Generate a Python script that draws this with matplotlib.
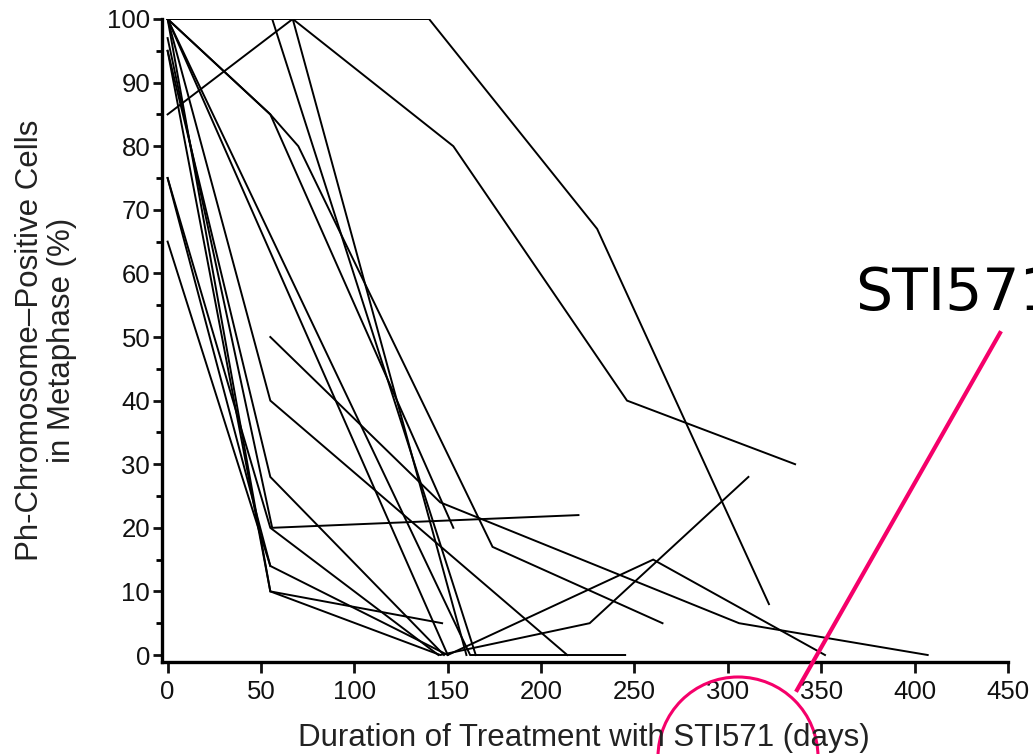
import matplotlib.pyplot as plt
from matplotlib.patches import Ellipse
from matplotlib.lines import Line2D

plt.rcParams['font.family'] = ['Liberation Sans', 'DejaVu Sans']

# one entry per patient: treatment day, % Ph+ metaphases
days = [
    [0, 140, 230, 322],
    [0, 67, 153, 246, 336],
    [0, 56, 165],
    [0, 67, 160],
    [0, 55, 70, 174, 265],
    [0, 55, 153],
    [0, 162, 245],
    [0, 55, 214],
    [55, 146, 306, 407],
    [0, 55, 147],
    [0, 55, 146, 226, 311],
    [0, 55, 150, 260, 352],
    [0, 56, 220],
    [0, 55],
    [0, 55, 148],
    [0, 55, 145],
    [0, 150],
]
ph_pos = [
    [100, 100, 67, 8],
    [85, 100, 80, 40, 30],
    [100, 100, 0],
    [100, 100, 0],
    [100, 85, 80, 17, 5],
    [100, 85, 20],
    [100, 0, 0],
    [100, 40, 0],
    [50, 24, 5, 0],
    [95, 10, 5],
    [100, 10, 0, 5, 28],
    [75, 14, 0, 15, 0],
    [97, 20, 22],
    [65, 14],
    [95, 28, 0],
    [75, 20, 0],
    [100, 0],
]

x_ticks = [0, 50, 100, 150, 200, 250, 300, 350, 400, 450]
y_ticks = [0, 10, 20, 30, 40, 50, 60, 70, 80, 90, 100]

W, H = 1033, 754
fig = plt.figure(figsize=(W / 100, H / 100), dpi=100)
ax = fig.add_axes([162 / W, 1 - 662 / H, (1008 - 162) / W, (662 - 19) / H])

for d, p in zip(days, ph_pos):
    ax.plot(d, p, color='black', lw=1.4, solid_joinstyle='miter')

ax.set_xlim(-3, 450)
ax.set_ylim(-1.1, 100)
ax.set_xticks(x_ticks)
ax.set_yticks(y_ticks)
ax.set_yticks([v + 5 for v in y_ticks[:-1]], minor=True)
ax.spines['top'].set_visible(False)
ax.spines['right'].set_visible(False)
for s in ('left', 'bottom'):
    ax.spines[s].set_linewidth(2.4)
ax.tick_params(axis='both', which='major', direction='out', width=2.0,
               labelsize=18.5, colors='#111111')
ax.tick_params(axis='y', which='major', length=6.5, pad=2)
ax.tick_params(axis='y', which='minor', length=4.5, width=2.0)
ax.tick_params(axis='x', which='major', length=8, pad=5)

fig.text(584 / W, 1 - 738 / H, 'Duration of Treatment with STI571 (days)',
         ha='center', va='center', fontsize=22.5, color='#222222')
fig.text(46 / W, 1 - 340 / H, 'Ph-Chromosome\u2013Positive Cells\nin Metaphase (%)',
         ha='center', va='center', rotation=90, fontsize=22.5,
         color='#222222', multialignment='center', linespacing=1.05)

# pink annotation
pink = '#f5006a'
fig.add_artist(Ellipse((738 / W, 1 - 757 / H), 160 / W, 160 / H,
                       transform=fig.transFigure, fill=False,
                       edgecolor=pink, lw=2.2))
fig.add_artist(Line2D([797 / W, 1000 / W], [1 - 690 / H, 1 - 333 / H],
                      transform=fig.transFigure, color=pink, lw=3))
fig.text(855 / W, 1 - 310 / H, 'STI571', fontsize=42, color='black',
         family=['DejaVu Sans'])

fig.savefig('out.png', dpi=100)
